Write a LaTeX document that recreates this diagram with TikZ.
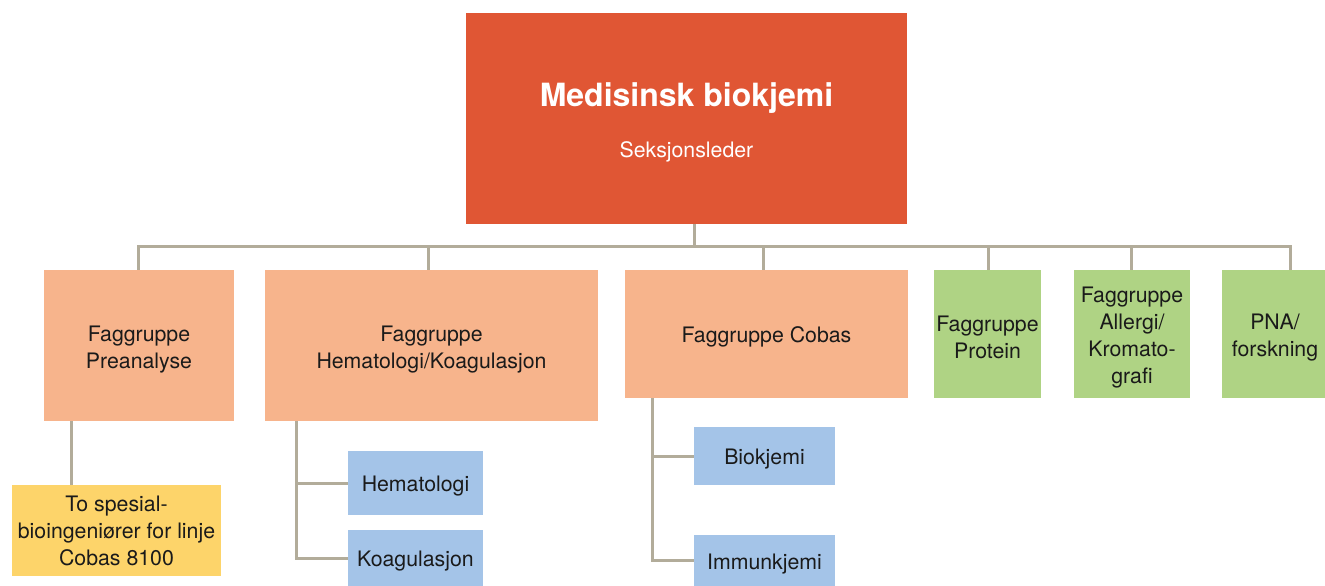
\documentclass[tikz,border=0pt]{standalone}
\usepackage{fontspec}
\setmainfont{TeX Gyre Heros}
\definecolor{topc}{HTML}{E05634}
\definecolor{peach}{HTML}{F7B48C}
\definecolor{greenc}{HTML}{AFD384}
\definecolor{bluec}{HTML}{A4C4E8}
\definecolor{yellowc}{HTML}{FDD46A}
\definecolor{linec}{HTML}{B2AC9A}
\definecolor{txt}{HTML}{1A1A1A}
\newcommand{\up}{\rule{0pt}{22pt}}
\newcommand{\upm}{\rule{0pt}{23pt}}
\tikzset{
  box/.style={draw=none, inner sep=1pt, align=center, text=txt,
    font=\fontsize{21.3}{27}\selectfont},
  conn/.style={draw=linec, line width=3pt}
}
\begin{document}
\begin{tikzpicture}[x=1pt,y=-1pt]
\useasboundingbox (0,0) rectangle (1325,586);
\node[box, fill=topc, text=white, minimum width=441pt, minimum height=211pt] (top) at (686.5,118.5)
  {\rule{0pt}{31pt}{\fontsize{32}{38}\selectfont\bfseries Medisinsk biokjemi}\\[24pt]Seksjonsleder};
\node[box, fill=peach, minimum width=190pt, minimum height=151pt] (pre) at (139,345.5) {\upm Faggruppe\\Preanalyse};
\node[box, fill=peach, minimum width=333pt, minimum height=151pt] (hem) at (431.5,345.5) {\upm Faggruppe\\Hematologi/Koagulasjon};
\node[box, fill=peach, minimum width=283pt, minimum height=128pt] (cob) at (766.5,334) {\up Faggruppe Cobas};
\node[box, fill=greenc, minimum width=107pt, minimum height=128pt] (pro) at (987.5,334) {\upm Faggruppe\\Protein};
\node[box, fill=greenc, minimum width=116pt, minimum height=128pt] (all) at (1132,334) {\upm Faggruppe\\Allergi/\\Kromato-\\grafi};
\node[box, fill=greenc, minimum width=106pt, minimum height=128pt] (pna) at (1275,334) {\upm PNA/\\forskning};
\node[box, fill=yellowc, minimum width=209pt, minimum height=91pt] (yel) at (116.5,530.5) {To spesial-\\bioingeniører for linje\\Cobas 8100};
\node[box, fill=bluec, minimum width=135pt, minimum height=64pt] (hem1) at (415.5,483) {\up Hematologi};
\node[box, fill=bluec, minimum width=135pt, minimum height=56pt] (hem2) at (415.5,558) {\up Koagulasjon};
\node[box, fill=bluec, minimum width=141pt, minimum height=58pt] (bio) at (764.5,456) {\up Biokjemi};
\node[box, fill=bluec, minimum width=141pt, minimum height=51pt] (imm) at (764.5,560.5) {\up Immunkjemi};
% bus
\coordinate (bus) at (0,246);
\draw[conn] ([xshift=7.5pt]top.south) -- ([xshift=7.5pt]top.south |- bus);
\draw[conn] ([xshift=-1pt]pre.north) -- ([xshift=-1pt]pre.north |- bus) -- ([xshift=15pt]pna.north |- bus) -- ([xshift=15pt]pna.north);
\draw[conn] ([xshift=-3.5pt]hem.north) -- ([xshift=-3.5pt]hem.north |- bus);
\draw[conn] ([xshift=-3.5pt]cob.north) -- ([xshift=-3.5pt]cob.north |- bus);
\draw[conn] ([xshift=0.5pt]pro.north) -- ([xshift=0.5pt]pro.north |- bus);
\draw[conn] ([xshift=-1pt]all.north) -- ([xshift=-1pt]all.north |- bus);
% sub lines
\coordinate (p1) at ([xshift=-68pt]pre.south);
\draw[conn] (p1) -- (p1 |- yel.north);
\coordinate (h1) at ([xshift=-135.5pt]hem.south);
\draw[conn] (h1) |- (hem2.west);
\draw[conn] (h1 |- hem1.west) -- (hem1.west);
\coordinate (c1) at ([xshift=-114.5pt]cob.south);
\draw[conn] (c1) |- (imm.west);
\draw[conn] (c1 |- bio.west) -- (bio.west);
\end{tikzpicture}
\end{document}
